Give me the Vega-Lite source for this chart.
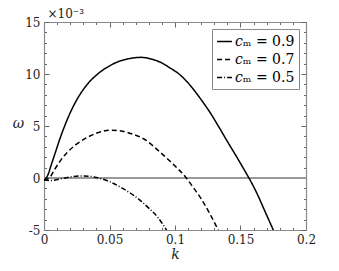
{
  "$schema": "https://vega.github.io/schema/vega-lite/v6.json",
  "width": 262,
  "height": 208,
  "autosize": "none",
  "padding": {"left": 44, "top": 22, "right": 33, "bottom": 41},
  "background": "white",
  "config": {
    "view": {"stroke": null},
    "font": "DejaVu Serif",
    "axis": {
      "domainColor": "#8a8a8a",
      "domainWidth": 1.2,
      "tickColor": "#666666",
      "grid": false,
      "labelFont": "DejaVu Serif",
      "labelFontSize": 12,
      "labelColor": "#222222",
      "titleFont": "DejaVu Serif",
      "titleFontWeight": "normal",
      "titleFontStyle": "italic",
      "titleFontSize": 14,
      "titleColor": "#222222"
    },
    "legend": {"labelFont": "DejaVu Serif"}
  },
  "datasets": {
    "zero": [{"k": 0, "w": 0}, {"k": 0.2, "w": 0}],
    "curves": [
      {"cm": "𝑐ₘ = 0.9", "k": 0, "w": -0.2},
      {"cm": "𝑐ₘ = 0.9", "k": 0.003, "w": 0.3},
      {"cm": "𝑐ₘ = 0.9", "k": 0.0051, "w": 1.1},
      {"cm": "𝑐ₘ = 0.9", "k": 0.008, "w": 2.2},
      {"cm": "𝑐ₘ = 0.9", "k": 0.0127, "w": 3.97},
      {"cm": "𝑐ₘ = 0.9", "k": 0.018, "w": 5.7},
      {"cm": "𝑐ₘ = 0.9", "k": 0.0254, "w": 7.6},
      {"cm": "𝑐ₘ = 0.9", "k": 0.033, "w": 9.0},
      {"cm": "𝑐ₘ = 0.9", "k": 0.041, "w": 10.0},
      {"cm": "𝑐ₘ = 0.9", "k": 0.051, "w": 10.85},
      {"cm": "𝑐ₘ = 0.9", "k": 0.058, "w": 11.25},
      {"cm": "𝑐ₘ = 0.9", "k": 0.066, "w": 11.5},
      {"cm": "𝑐ₘ = 0.9", "k": 0.074, "w": 11.6},
      {"cm": "𝑐ₘ = 0.9", "k": 0.081, "w": 11.47},
      {"cm": "𝑐ₘ = 0.9", "k": 0.0885, "w": 11.15},
      {"cm": "𝑐ₘ = 0.9", "k": 0.096, "w": 10.6},
      {"cm": "𝑐ₘ = 0.9", "k": 0.104, "w": 9.9},
      {"cm": "𝑐ₘ = 0.9", "k": 0.112, "w": 8.85},
      {"cm": "𝑐ₘ = 0.9", "k": 0.119, "w": 7.7},
      {"cm": "𝑐ₘ = 0.9", "k": 0.127, "w": 6.25},
      {"cm": "𝑐ₘ = 0.9", "k": 0.134, "w": 4.8},
      {"cm": "𝑐ₘ = 0.9", "k": 0.141, "w": 3.3},
      {"cm": "𝑐ₘ = 0.9", "k": 0.147, "w": 2.05},
      {"cm": "𝑐ₘ = 0.9", "k": 0.153, "w": 0.75},
      {"cm": "𝑐ₘ = 0.9", "k": 0.158, "w": -0.35},
      {"cm": "𝑐ₘ = 0.9", "k": 0.163, "w": -1.6},
      {"cm": "𝑐ₘ = 0.9", "k": 0.169, "w": -3.3},
      {"cm": "𝑐ₘ = 0.9", "k": 0.175, "w": -5.0},
      {"cm": "𝑐ₘ = 0.9", "k": 0.177, "w": -5.6},
      {"cm": "𝑐ₘ = 0.7", "k": 0, "w": -0.2},
      {"cm": "𝑐ₘ = 0.7", "k": 0.004, "w": 0.0},
      {"cm": "𝑐ₘ = 0.7", "k": 0.008, "w": 0.8},
      {"cm": "𝑐ₘ = 0.7", "k": 0.0127, "w": 1.7},
      {"cm": "𝑐ₘ = 0.7", "k": 0.018, "w": 2.5},
      {"cm": "𝑐ₘ = 0.7", "k": 0.0254, "w": 3.3},
      {"cm": "𝑐ₘ = 0.7", "k": 0.033, "w": 3.9},
      {"cm": "𝑐ₘ = 0.7", "k": 0.041, "w": 4.35},
      {"cm": "𝑐ₘ = 0.7", "k": 0.0509, "w": 4.6},
      {"cm": "𝑐ₘ = 0.7", "k": 0.06, "w": 4.5},
      {"cm": "𝑐ₘ = 0.7", "k": 0.068, "w": 4.2},
      {"cm": "𝑐ₘ = 0.7", "k": 0.0763, "w": 3.75},
      {"cm": "𝑐ₘ = 0.7", "k": 0.0885, "w": 2.5},
      {"cm": "𝑐ₘ = 0.7", "k": 0.098, "w": 1.4},
      {"cm": "𝑐ₘ = 0.7", "k": 0.108, "w": 0.1},
      {"cm": "𝑐ₘ = 0.7", "k": 0.115, "w": -1.1},
      {"cm": "𝑐ₘ = 0.7", "k": 0.12, "w": -2.0},
      {"cm": "𝑐ₘ = 0.7", "k": 0.126, "w": -3.3},
      {"cm": "𝑐ₘ = 0.7", "k": 0.133, "w": -5.0},
      {"cm": "𝑐ₘ = 0.7", "k": 0.135, "w": -5.5},
      {"cm": "𝑐ₘ = 0.5", "k": 0, "w": -0.2},
      {"cm": "𝑐ₘ = 0.5", "k": 0.005, "w": -0.25},
      {"cm": "𝑐ₘ = 0.5", "k": 0.01, "w": -0.15},
      {"cm": "𝑐ₘ = 0.5", "k": 0.02, "w": 0.1},
      {"cm": "𝑐ₘ = 0.5", "k": 0.03, "w": 0.2},
      {"cm": "𝑐ₘ = 0.5", "k": 0.04, "w": 0.05},
      {"cm": "𝑐ₘ = 0.5", "k": 0.05, "w": -0.35},
      {"cm": "𝑐ₘ = 0.5", "k": 0.06, "w": -1.0},
      {"cm": "𝑐ₘ = 0.5", "k": 0.073, "w": -2.1},
      {"cm": "𝑐ₘ = 0.5", "k": 0.08, "w": -2.9},
      {"cm": "𝑐ₘ = 0.5", "k": 0.087, "w": -3.8},
      {"cm": "𝑐ₘ = 0.5", "k": 0.093, "w": -4.9},
      {"cm": "𝑐ₘ = 0.5", "k": 0.096, "w": -5.5}
    ]
  },
  "layer": [
    {
      "data": {"name": "zero"},
      "mark": {"type": "line", "color": "#999999", "strokeWidth": 2, "clip": true},
      "encoding": {
        "x": {
          "field": "k", "type": "quantitative",
          "scale": {"domain": [0, 0.2], "nice": false},
          "axis": {
            "orient": "top",
            "values": [0,0.01,0.02,0.03,0.04,0.05,0.06,0.07,0.08,0.09,0.1,0.11,0.12,0.13,0.14,0.15,0.16,0.17,0.18,0.19,0.2],
            "labels": false,
            "tickSize": {"condition": {"test": "abs(datum.value*20 - round(datum.value*20)) < 0.001", "value": -5}, "value": -2.5},
            "title": "×10⁻³",
            "titleFontStyle": "normal",
            "titleFontSize": 12,
            "titleAnchor": "start",
            "titleAlign": "left",
            "titleX": 3,
            "titlePadding": 1
          }
        },
        "y": {
          "field": "w", "type": "quantitative",
          "scale": {"domain": [-5, 15], "nice": false},
          "axis": {
            "orient": "right",
            "values": [-5,-4,-3,-2,-1,0,1,2,3,4,5,6,7,8,9,10,11,12,13,14,15],
            "labels": false,
            "tickSize": {"condition": {"test": "abs(datum.value/5 - round(datum.value/5)) < 0.001", "value": -5}, "value": -2.5},
            "title": null
          }
        }
      }
    },
    {
      "data": {"name": "curves"},
      "mark": {"type": "line", "color": "black", "strokeWidth": 1.5, "clip": true, "interpolate": "monotone"},
      "encoding": {
        "x": {
          "field": "k", "type": "quantitative",
          "scale": {"domain": [0, 0.2], "nice": false},
          "axis": {
            "orient": "bottom",
            "values": [0,0.01,0.02,0.03,0.04,0.05,0.06,0.07,0.08,0.09,0.1,0.11,0.12,0.13,0.14,0.15,0.16,0.17,0.18,0.19,0.2],
            "labelExpr": "abs(datum.value*20 - round(datum.value*20)) < 0.001 ? '' + datum.value : ''",
            "tickSize": {"condition": {"test": "abs(datum.value*20 - round(datum.value*20)) < 0.001", "value": -5}, "value": -2.5},
            "labelPadding": 9,
            "labelFlush": false,
            "title": "k",
            "titlePadding": 2
          }
        },
        "y": {
          "field": "w", "type": "quantitative",
          "scale": {"domain": [-5, 15], "nice": false},
          "axis": {
            "orient": "left",
            "values": [-5,-4,-3,-2,-1,0,1,2,3,4,5,6,7,8,9,10,11,12,13,14,15],
            "labelExpr": "abs(datum.value/5 - round(datum.value/5)) < 0.001 ? '' + datum.value : ''",
            "tickSize": {"condition": {"test": "abs(datum.value/5 - round(datum.value/5)) < 0.001", "value": -5}, "value": -2.5},
            "labelPadding": 9,
            "labelFlush": false,
            "title": "ω",
            "titleAngle": 0,
            "titleX": -26,
            "titleY": 108
          }
        },
        "strokeDash": {
          "field": "cm", "type": "nominal",
          "scale": {
            "domain": ["𝑐ₘ = 0.9", "𝑐ₘ = 0.7", "𝑐ₘ = 0.5"],
            "range": [[1, 0], [5, 3], [5, 2, 1, 2]]
          },
          "legend": {
            "orient": "top-right",
            "title": null,
            "offset": 7,
            "fillColor": "white",
            "strokeColor": "#8a8a8a",
            "padding": 4,
            "symbolType": "stroke",
            "symbolSize": 220,
            "symbolStrokeWidth": 1.5,
            "symbolStrokeColor": "black",
            "labelFont": "DejaVu Serif",
            "labelFontSize": 14,
            "labelColor": "black",
            "rowPadding": 2,
            "labelOffset": 2
          }
        }
      }
    }
  ],
  "resolve": {"axis": {"x": "independent", "y": "independent"}}
}
